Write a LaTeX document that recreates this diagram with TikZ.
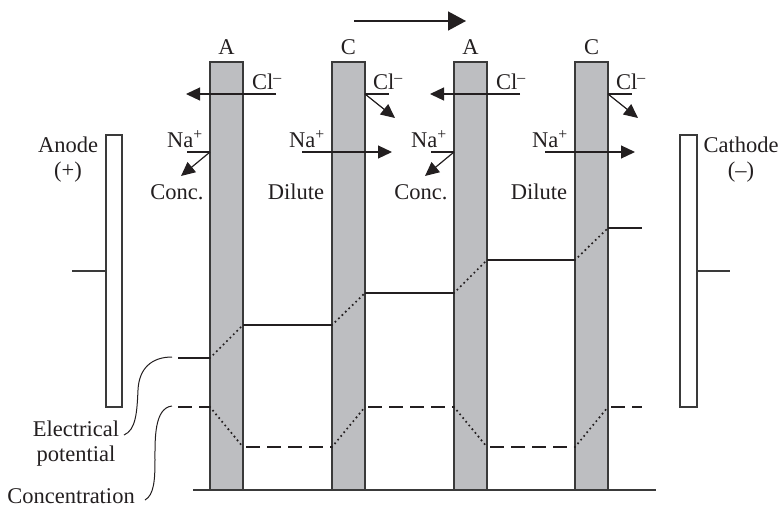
\documentclass[tikz,border=0pt]{standalone}
\usepackage{fontspec}
\setmainfont{Liberation Serif}
\usetikzlibrary{arrows.meta}
\definecolor{memgray}{HTML}{BDBEC1}
\definecolor{ink}{HTML}{231F20}
\definecolor{edge}{HTML}{3A3A3A}
\tikzset{
  txt/.style={font=\fontsize{22.5}{25}\selectfont, text=ink, inner sep=0pt, align=center},
  membrane/.style={fill=memgray, draw=edge, line width=1.1pt},
  electrode/.style={fill=white, draw=edge, line width=1.1pt},
  ionarrow/.style={draw=ink, line width=1.2pt, -{Triangle[length=14pt,width=13pt]}},
  ionline/.style={draw=ink, line width=1.2pt},
  potline/.style={draw=ink, line width=2pt},
  concline/.style={draw=ink, line width=2pt, dash pattern=on 14pt off 7pt},
  transline/.style={draw=ink, line width=2.4pt, line cap=round, dash pattern=on 0pt off 4.8pt},
  callout/.style={draw=ink, line width=1pt},
}
\begin{document}
\begin{tikzpicture}[x=1pt,y=-1pt]
\useasboundingbox (0,0) rectangle (780,507);

% flow arrow
\coordinate (fa) at (354,21);
\coordinate (fb) at (466,21);
\draw[draw=ink, line width=1.5pt, -{Triangle[length=18pt,width=19pt]}] (fa) -- (fb);

% baseline
\coordinate (b1) at (193,490);
\coordinate (b2) at (656,490);
\draw[draw=edge, line width=1.2pt] (b1) -- (b2);

% membranes
\foreach \n/\x/\lab in {1/210/A,2/332/C,3/454/A,4/575/C}{
  \draw[membrane] (\x,62) rectangle (\x+33,490);
  \node[txt] (lab\n) at (\x+16.5,47) {\lab};
}

% electrodes
\draw[electrode] (106,135) rectangle (122,407);
\draw[electrode] (680,135) rectangle (697,407);
\coordinate (an1) at (72,271);
\coordinate (an2) at (106,271);
\coordinate (ca1) at (697,271);
\coordinate (ca2) at (730,271);
\draw[draw=edge, line width=1.1pt] (an1) -- (an2);
\draw[draw=edge, line width=1.1pt] (ca1) -- (ca2);
\node[txt] (anode) at (68,160) {Anode\\(+)};
\node[txt] (cathode) at (741,160) {Cathode\\(--)};

% ion arrows at anion-exchange membranes (A)
\foreach \n/\o in {1/0,2/244}{
  \node[txt] (clA\n) at (267+\o,82) {Cl\textsuperscript{--}};
  \coordinate (clAs\n) at (276+\o,94);
  \coordinate (clAe\n) at (186+\o,94);
  \draw[ionarrow] (clAs\n) -- (clAe\n);
  \node[txt] (naA\n) at (185+\o,139) {Na\textsuperscript{+}};
  \coordinate (naAs\n) at (187+\o,152);
  \coordinate (naAm\n) at (210+\o,152);
  \coordinate (naAe\n) at (181+\o,176);
  \draw[ionline] (naAs\n) -- (naAm\n);
  \draw[ionarrow] (naAm\n) -- (naAe\n);
  \node[txt] (conc\n) at (177+\o,192) {Conc.};
}
% ion arrows at cation-exchange membranes (C)
\foreach \n/\o in {1/0,2/243}{
  \node[txt] (clC\n) at (388+\o,82) {Cl\textsuperscript{--}};
  \coordinate (clCs\n) at (365+\o,94);
  \coordinate (clCm\n) at (389+\o,94);
  \coordinate (clCe\n) at (395+\o,118);
  \draw[ionline] (clCs\n) -- (clCm\n);
  \draw[ionarrow] (clCs\n) -- (clCe\n);
  \node[txt] (naC\n) at (307+\o,139) {Na\textsuperscript{+}};
  \coordinate (naCs\n) at (302+\o,152);
  \coordinate (naCe\n) at (392+\o,152);
  \draw[ionarrow] (naCs\n) -- (naCe\n);
  \node[txt] (dil\n) at (296+\o,192) {Dilute};
}

% electrical potential profile
\draw[potline] (178,358) -- (210,358);
\draw[transline] (210,358) -- (243,325);
\draw[potline] (243,325) -- (332,325);
\draw[transline] (332,325) -- (365,293);
\draw[potline] (365,293) -- (454,293);
\draw[transline] (454,293) -- (487,260);
\draw[potline] (487,260) -- (575,260);
\draw[transline] (575,260) -- (608,228);
\draw[potline] (608,228) -- (642,228);

% concentration profile
\draw[concline] (178,407) -- (210,407);
\draw[transline] (210,407) -- (243,447);
\draw[concline] (246,447) -- (332,447);
\draw[transline] (332,447) -- (365,407);
\draw[concline] (368,407) -- (454,407);
\draw[transline] (454,407) -- (487,447);
\draw[concline] (490,447) -- (575,447);
\draw[transline] (575,447) -- (608,407);
\draw[concline] (611,407) -- (642,407);

% labels with callouts
\node[txt] (elec) at (76,444) {Electrical\\potential};
\node[txt] (concn) at (71,496) {Concentration};
\coordinate (ep1) at (124,435);
\coordinate (ep2) at (172,357);
\draw[callout] (ep1) .. controls (136,430) and (137,412) .. (138,390)
  .. controls (139,368) and (152,357) .. (ep2);
\coordinate (cc1) at (145,500);
\coordinate (cc2) at (172,406);
\draw[callout] (cc1) .. controls (154,495) and (155,480) .. (155,460)
  .. controls (155,440) and (154,408) .. (cc2);
\end{tikzpicture}
\end{document}
